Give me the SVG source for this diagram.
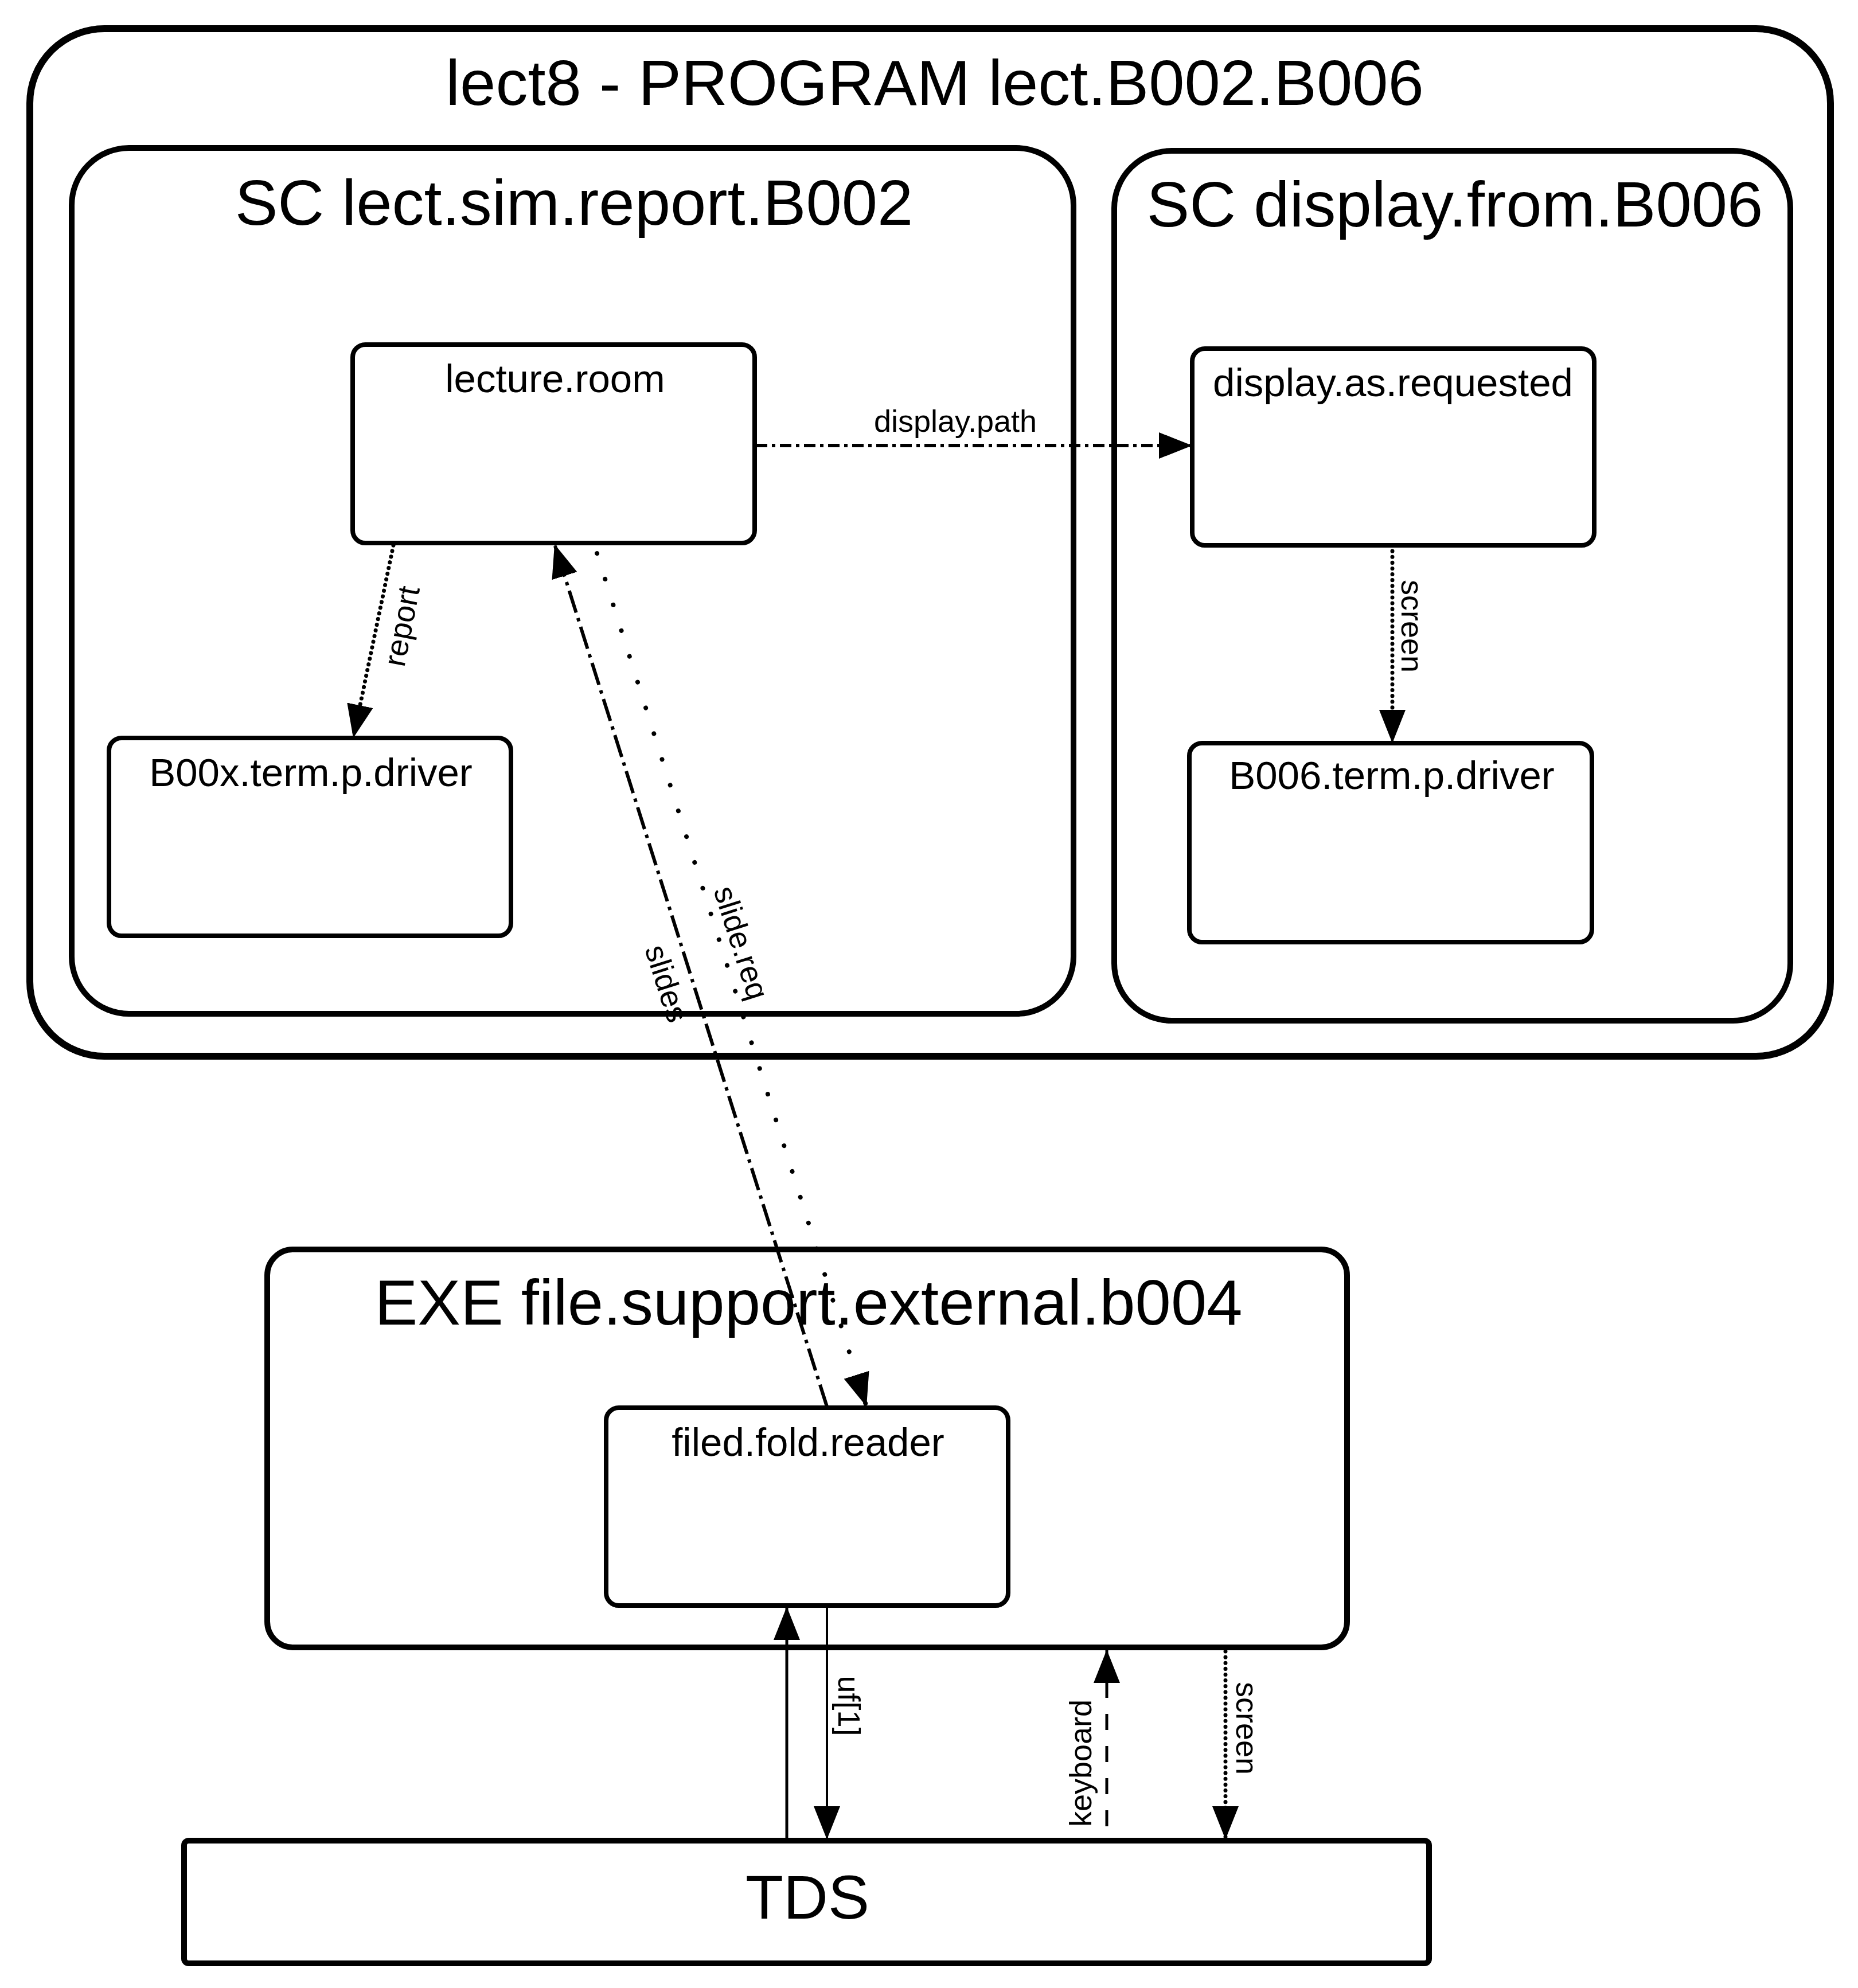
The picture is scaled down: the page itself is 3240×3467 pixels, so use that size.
<svg xmlns="http://www.w3.org/2000/svg" width="3240" height="3467" viewBox="0 0 3240 3467">
<style>
  .box { fill: none; stroke: #000; }
  .big { stroke-width: 12; }
  .mid { stroke-width: 10; }
  .node { stroke-width: 8; }
  text { font-family: "Liberation Sans", Arial, Helvetica, sans-serif; fill: #000; text-anchor: middle; }
  .t1 { font-size: 112px; }
  .t2 { font-size: 69px; }
  .t3 { font-size: 54px; }
  .conn { fill: none; stroke: #000; }
  .dense { stroke-width: 7; stroke-linecap: round; stroke-dasharray: 0.1 10; }
  .sparse { stroke-width: 8; stroke-linecap: round; stroke-dasharray: 0.1 47; }
  .dashdot { stroke-width: 6; stroke-dasharray: 20 8 6 8; }
  .longdashdot { stroke-width: 6; stroke-dasharray: 40 10 6 10; }
  .dashed { stroke-width: 5; stroke-dasharray: 28 28; }
  .solid { stroke-width: 5; }
  .thin { stroke-width: 4; }
</style>
<defs>
  <marker id="arr" markerUnits="userSpaceOnUse" markerWidth="60" markerHeight="46" refX="58" refY="23" orient="auto">
    <path d="M0,0 L58,23 L0,46 Z" fill="#000"/>
  </marker>
</defs>
<rect width="3240" height="3467" fill="#fff"/>

<g id="program-lect8">
  <rect class="box big" x="52" y="50" width="3140" height="1792" rx="130" ry="130"/>
  <text class="t1" x="1630" y="183">lect8 - PROGRAM lect.B002.B006</text>
</g>

<g id="sc-lect-sim-report">
  <rect class="box mid" x="125" y="258" width="1747" height="1510" rx="100" ry="100"/>
  <text class="t1" x="1001" y="392">SC lect.sim.report.B002</text>
</g>

<g id="sc-display-from">
  <rect class="box mid" x="1943" y="263" width="1179" height="1517" rx="100" ry="100"/>
  <text class="t1" x="2537" y="395">SC display.from.B006</text>
</g>

<g id="lecture-room">
  <rect class="box node" x="615" y="601" width="701" height="346" rx="22" ry="22"/>
  <text class="t2" x="968" y="684">lecture.room</text>
</g>

<g id="display-as-requested">
  <rect class="box node" x="2079" y="608" width="701" height="343" rx="22" ry="22"/>
  <text class="t2" x="2429" y="691">display.as.requested</text>
</g>

<g id="b00x-term-p-driver">
  <rect class="box node" x="190" y="1287" width="701" height="345" rx="22" ry="22"/>
  <text class="t2" x="542" y="1371">B00x.term.p.driver</text>
</g>

<g id="b006-term-p-driver">
  <rect class="box node" x="2074" y="1296" width="702" height="347" rx="22" ry="22"/>
  <text class="t2" x="2427" y="1376">B006.term.p.driver</text>
</g>

<g id="exe-file-support">
  <rect class="box mid" x="466" y="2179" width="1883" height="694" rx="45" ry="45"/>
  <text class="t1" x="1410" y="2310">EXE file.support.external.b004</text>
</g>

<g id="filed-fold-reader">
  <rect class="box node" x="1057" y="2455" width="701" height="345" rx="22" ry="22"/>
  <text class="t2" x="1409" y="2539">filed.fold.reader</text>
</g>

<g id="tds">
  <rect class="box mid" x="321" y="3210" width="2171" height="214" rx="8" ry="8"/>
  <text style="font-size:108px" x="1408" y="3346">TDS</text>
</g>

<g id="connectors">
  <line class="conn dashdot" x1="1318" y1="777" x2="2079" y2="777" marker-end="url(#arr)"/>
  <text class="t3" x="1666" y="753">display.path</text>

  <line class="conn dense" x1="686" y1="951" x2="616" y2="1287" marker-end="url(#arr)"/>
  <text class="t3" transform="translate(700,1092) rotate(-79)" dy="0.35em">report</text>

  <line class="conn dense" x1="2428" y1="951" x2="2428" y2="1296" marker-end="url(#arr)"/>
  <text class="t3" transform="translate(2463,1092) rotate(90)" dy="0.35em">screen</text>

  <line class="conn longdashdot" x1="1442" y1="2453" x2="967" y2="949" marker-end="url(#arr)"/>
  <text class="t3" transform="translate(1163,1715) rotate(72.4)" dy="0.35em">slides</text>

  <line class="conn sparse" x1="1041" y1="965" x2="1511" y2="2453" marker-end="url(#arr)"/>
  <text class="t3" transform="translate(1293,1644) rotate(72.4)" dy="0.35em">slide.req</text>

  <line class="conn solid" x1="1372" y1="3208" x2="1372" y2="2802" marker-end="url(#arr)"/>

  <line class="conn thin" x1="1442" y1="2803" x2="1442" y2="3208" marker-end="url(#arr)"/>
  <text class="t3" transform="translate(1481,2975) rotate(90)" dy="0.35em">uf[1]</text>

  <line class="conn dashed" x1="1930" y1="3185" x2="1930" y2="2877" marker-end="url(#arr)"/>
  <text class="t3" transform="translate(1884,3075) rotate(-90)" dy="0.35em">keyboard</text>

  <line class="conn dense" x1="2137" y1="2880" x2="2137" y2="3208" marker-end="url(#arr)"/>
  <text class="t3" transform="translate(2175,3014) rotate(90)" dy="0.35em">screen</text>
</g>
</svg>
